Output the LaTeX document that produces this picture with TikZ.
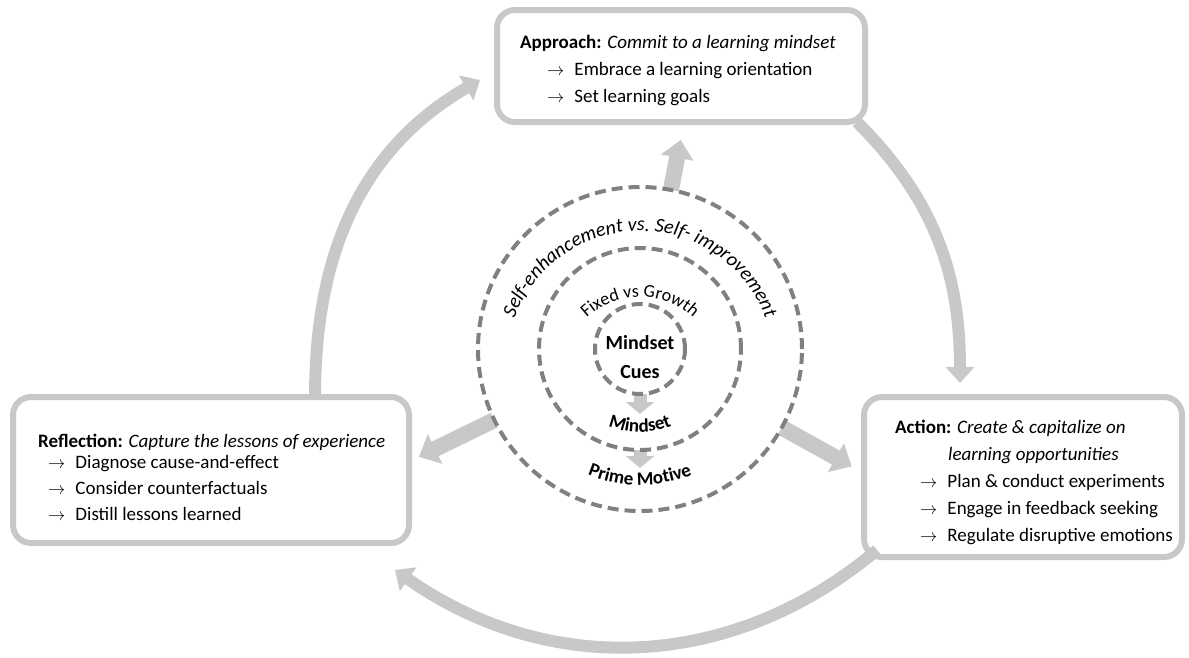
\documentclass[tikz,border=0pt]{standalone}
\usepackage{fontspec}
\setmainfont{Carlito}
\usetikzlibrary{arrows.meta}
\usetikzlibrary{decorations.text}
\usetikzlibrary{backgrounds}

\definecolor{boxgray}{RGB}{200,200,200}
\definecolor{ringgray}{RGB}{128,128,128}

\tikzset{
  stagebox/.style={draw=boxgray, line width=6pt, rounded corners=18pt, inner sep=0pt, outer sep=0pt},
  ring/.style={circle, draw=ringgray, line width=4pt, dash pattern=on 11pt off 6pt, inner sep=0pt, outer sep=0pt},
  txt/.style={font=\fontsize{19}{23}\selectfont, inner sep=0pt, anchor=base west},
  roundarrow/.style={draw=boxgray, line width=12pt, -{Triangle[width=28pt,length=16pt]}},
  spoke/.style={draw=boxgray, line width=16pt, -{Triangle[width=32pt,length=18pt]}},
  nudge/.style={draw=boxgray, line width=13pt, -{Triangle[width=28pt,length=12pt]}},
}
\newcommand{\bullar}{$\rightarrow$\hspace{10pt}}

\begin{document}
\begin{tikzpicture}[x=1pt,y=1pt]
\useasboundingbox (0,0) rectangle (1189,-657);

% the three stages
\node[stagebox, minimum width=368pt, minimum height=112pt] (approach) at (681,-66) {};
\node[stagebox, minimum width=396pt, minimum height=146pt] (reflection) at (211,-470) {};
\node[stagebox, minimum width=318pt, minimum height=160pt] (action) at (1023,-477) {};

\node[txt] (apptitle) at ([shift={(23,-38)}]approach.north west) {\textbf{Approach:} \textit{Commit to a learning mindset}};
\foreach \t [count=\i] in {Embrace a learning orientation, Set learning goals}
  \node[txt] (appitem\i) at ([shift={(27,-27*\i)}]apptitle.base west) {\bullar\t};

\node[txt] (reftitle) at ([shift={(25,-50)}]reflection.north west) {\textbf{Reflection:} \textit{Capture the lessons of experience}};
\foreach \t [count=\i] in {Diagnose cause-and-effect, Consider counterfactuals, Distill lessons learned}
  \node[txt] (refitem\i) at ([shift={(10,5-26*\i)}]reftitle.base west) {\bullar\t};

\node[txt] (acttitle) at ([shift={(31,-36)}]action.north west) {\textbf{Action:} \textit{Create \& capitalize on}};
\node[txt] (actcont) at ([shift={(53,-27)}]acttitle.base west) {\textit{learning opportunities}};
\foreach \t [count=\i] in {Plan \& conduct experiments, Engage in feedback seeking, Regulate disruptive emotions}
  \node[txt] (actitem\i) at ([shift={(25,-27-27*\i)}]acttitle.base west) {\bullar\t};

% nested rings
\node[ring, minimum size=324pt] (motive) at (640,-349) {};
\node[ring, minimum size=202pt] (mindset) at (motive) {};
\node[ring, minimum size=90pt] (cues) at (motive) {};
\node[font=\fontsize{20}{29}\selectfont\bfseries, align=center] (cuestxt) at ([yshift=-8]cues) {Mindset\\Cues};

\path[decorate, decoration={text along path, text align=center,
  text={|\fontsize{20}{24}\selectfont\itshape|Self-enhancement vs. Self- improvement}}]
  ([shift={(180:134)},yshift=-16]motive.center) arc[start angle=180, end angle=0, radius=134pt];
\path[decorate, decoration={text along path, text align=center,
  text={|\fontsize{18}{22}\selectfont|Fixed vs Growth}}]
  ([shift={(180:78)},yshift=-26]motive.center) arc[start angle=180, end angle=0, radius=78pt];
\path[decorate, decoration={text along path, text align=center,
  text={|\fontsize{19}{22}\selectfont\bfseries|Mindset}}]
  ([shift={(180:83)}]motive.center) arc[start angle=180, end angle=360, radius=83pt];
\path[decorate, decoration={text along path, text align=center,
  text={|\fontsize{19}{22}\selectfont\bfseries|Prime Motive}}]
  ([shift={(180:136)}]motive.center) arc[start angle=180, end angle=360, radius=136pt];

\begin{scope}[on background layer]
  \foreach \a/\r in {79/213, 206/246, 331/242}
    \draw[spoke] (motive.\a) -- ([shift={(\a:\r)}]motive.center);
  \draw[nudge] (cues.south) -- ([yshift=-20]cues.south);
  \draw[nudge] (mindset.south) -- ([yshift=-18]mindset.south);
\end{scope}

% the learning cycle
\draw[roundarrow] ([xshift=-94]reflection.north east) to[out=90,in=210] ([shift={(-17,-14)}]approach.west);
\draw[roundarrow] ([xshift=-8]approach.south east) to[out=-45,in=90] ([shift={(-63,14)}]action.north);
\draw[roundarrow] ([shift={(13,7)}]action.south west) to[out=220,in=-35] ([shift={(-14,-27)}]reflection.south east);
\end{tikzpicture}
\end{document}
